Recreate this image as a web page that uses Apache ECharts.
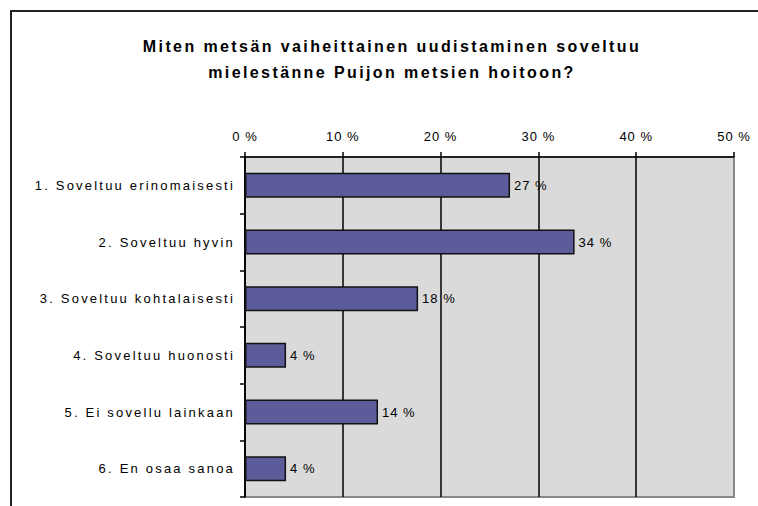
<!DOCTYPE html>
<html>
<head>
<meta charset="utf-8">
<script src="https://cdn.jsdelivr.net/npm/echarts@6/dist/echarts.min.js"></script>
<style>html,body{margin:0;padding:0;background:#fff}#c{width:758px;height:506px}</style>
</head>
<body>
<div id="c"></div>
<script>
var categories = ['1. Soveltuu erinomaisesti', '2. Soveltuu hyvin', '3. Soveltuu kohtalaisesti', '4. Soveltuu huonosti', '5. Ei sovellu lainkaan', '6. En osaa sanoa'];
var values = [27.1, 33.7, 17.7, 4.2, 13.6, 4.2];
var valueLabels = ['27 %', '34 %', '18 %', '4 %', '14 %', '4 %'];
var titleLines = ['Miten metsän vaiheittainen uudistaminen soveltuu', 'mielestänne Puijon metsien hoitoon?'];

var pc = document.createElement('canvas');
pc.width = 2; pc.height = 2;
var g = pc.getContext('2d');
g.fillStyle = '#f2f2f2'; g.fillRect(0,0,2,2);
g.fillStyle = '#c4c4c4'; g.fillRect(0,0,1,1); g.fillRect(1,1,1,1);

var FONT = '"Liberation Sans", Arial, sans-serif';
var chart = echarts.init(document.getElementById('c'), null, {renderer: 'svg'});
chart.setOption({
  animation: false,
  backgroundColor: '#fff',
  graphic: [
    {type: 'rect', shape: {x: 11, y: 11, width: 900, height: 700}, style: {fill: null, stroke: '#222', lineWidth: 2}, z: 100},
    {type: 'text', x: 392, y: 46, style: {text: titleLines[0], textAlign: 'center', textVerticalAlign: 'middle', font: 'bold 16px ' + FONT, fill: '#000'}},
    {type: 'text', x: 392, y: 72, style: {text: titleLines[1], textAlign: 'center', textVerticalAlign: 'middle', font: 'bold 16px ' + FONT, fill: '#000'}}
  ],
  grid: {
    left: 245, top: 157, right: 24, bottom: 9,
    show: true,
    backgroundColor: '#dadada',
    borderColor: '#888', borderWidth: 2
  },
  xAxis: {
    type: 'value', position: 'top', min: 0, max: 50, interval: 10,
    axisLine: {show: true, lineStyle: {color: '#000', width: 1.5}},
    axisTick: {show: true, length: 5, lineStyle: {color: '#000', width: 1.5}},
    axisLabel: {formatter: '{value} %', color: '#000', fontSize: 13, fontFamily: FONT, margin: 14},
    splitLine: {show: true, lineStyle: {color: ['#000','#000','#000','#000','#000','#888'], width: 1.5}}
  },
  yAxis: {
    type: 'category', inverse: true, data: categories,
    axisLine: {show: true, lineStyle: {color: '#000', width: 1.5}},
    axisTick: {show: true, length: 5, lineStyle: {color: '#000', width: 1.5}},
    axisLabel: {color: '#000', fontSize: 13, fontFamily: FONT, margin: 10}
  },
  series: [{
    type: 'bar', data: values, barCategoryGap: '56%',
    itemStyle: {color: '#5c5c9a', borderColor: '#111', borderWidth: 1.5},
    label: {show: true, position: 'right', distance: 4, color: '#000', fontSize: 13, fontFamily: FONT,
      formatter: function (p) { return valueLabels[p.dataIndex]; }}
  }]
});

// widen spacing of glyphs like the reference rendering
var texts = document.querySelectorAll('#c svg text');
texts.forEach(function (t) {
  var s = t.textContent;
  if (titleLines.indexOf(s) >= 0) t.style.letterSpacing = '2.4px';
  else if (categories.indexOf(s) >= 0) t.style.letterSpacing = '2.2px';
  else if (/%$/.test(s)) t.style.letterSpacing = '1px';
});
</script>
</body>
</html>
